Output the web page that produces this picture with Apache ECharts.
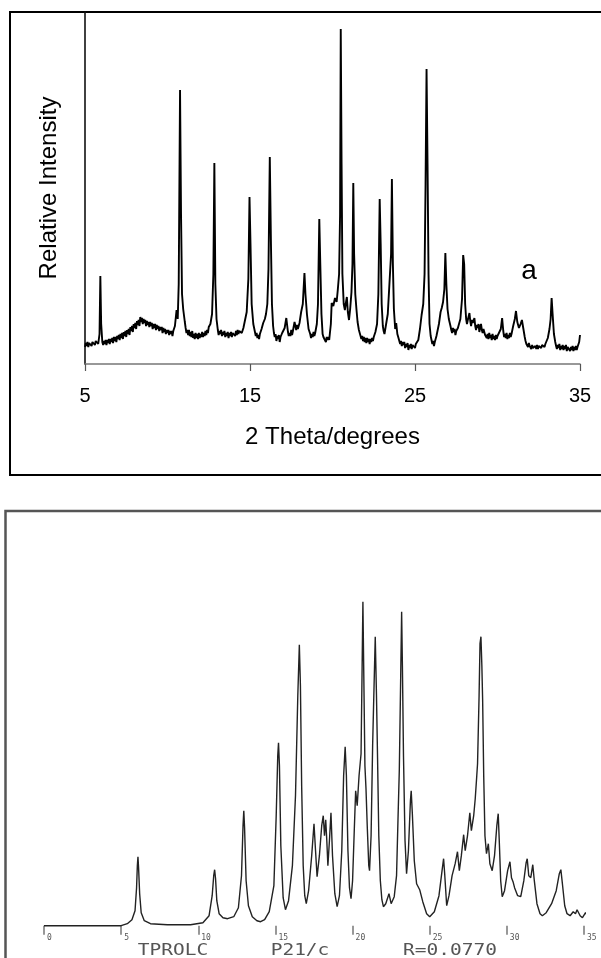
<!DOCTYPE html>
<html>
<head>
<meta charset="utf-8">
<script src="https://cdn.jsdelivr.net/npm/echarts@6/dist/echarts.min.js"></script>
<style>
html,body{margin:0;padding:0;background:#fff;}
#c{width:601px;height:958px;}
</style>
</head>
<body>
<div id="c"></div>
<script>
// ---- Top panel (experimental pattern "a"): [2theta, relative intensity] ----
const topTicks = [5, 15, 25, 35];
const topPattern = [
[5.0,17],[5.05,21],[5.1,18],[5.15,22],[5.2,17],[5.25,21],[5.3,19],[5.35,23],[5.4,18],[5.45,22],[5.5,20],[5.55,24],[5.6,19],[5.65,23],[5.7,21],[5.75,25],[5.8,20],
[5.88,30],[5.93,88],[5.98,40],[6.05,22],
[6.1,19],[6.15,23],[6.2,20],[6.25,24],[6.3,19],[6.35,24],[6.4,21],[6.45,25],[6.5,20],[6.55,25],[6.6,22],[6.65,26],[6.7,21],[6.75,27],[6.8,23],[6.85,27],[6.9,22],[6.95,28],[7.0,25],
[7.05,29],[7.1,24],[7.15,30],[7.2,26],[7.25,31],[7.3,25],[7.35,32],[7.4,28],[7.45,33],[7.5,27],[7.55,34],[7.6,30],[7.65,35],[7.7,29],[7.75,37],[7.8,33],[7.85,38],[7.9,32],[7.95,40],[8.0,36],
[8.05,41],[8.1,35],[8.15,43],[8.2,39],[8.25,44],[8.3,38],[8.35,47],[8.4,42],[8.45,46],[8.5,40],[8.55,45],[8.6,41],[8.65,44],[8.7,38],[8.75,43],[8.8,39],[8.85,42],[8.9,37],[8.95,42],[9.0,38],
[9.05,41],[9.1,35],[9.15,40],[9.2,36],[9.25,40],[9.3,34],[9.35,39],[9.4,35],[9.45,38],[9.5,33],[9.55,37],[9.6,34],[9.65,37],[9.7,31],[9.75,36],[9.8,32],[9.85,35],[9.9,30],[9.95,34],[10.0,31],
[10.05,34],[10.1,29],[10.15,33],[10.2,30],[10.25,33],[10.3,28],[10.35,33],[10.4,35],[10.45,38],[10.5,40],[10.55,54],[10.62,45],[10.68,80],[10.76,274],[10.82,150],[10.88,70],[10.95,55],[11.05,42],
[11.1,36],[11.15,31],[11.2,34],[11.25,29],[11.3,34],[11.35,28],[11.4,32],[11.45,27],[11.5,33],[11.55,26],[11.6,30],[11.65,25],[11.7,31],[11.75,26],[11.8,30],[11.85,25],[11.9,31],[11.95,26],[12.0,30],
[12.05,27],[12.1,32],[12.15,27],[12.2,31],[12.25,28],[12.3,33],[12.35,29],[12.4,34],[12.45,31],[12.5,37],[12.6,40],[12.7,50],[12.78,90],[12.84,201],[12.9,80],[12.97,45],[13.05,34],
[13.1,29],[13.15,33],[13.2,30],[13.25,34],[13.3,28],[13.35,32],[13.4,29],[13.45,33],[13.5,27],[13.55,31],[13.6,28],[13.65,32],[13.7,26],[13.75,31],[13.8,28],[13.85,32],[13.9,27],[13.95,31],[14.0,29],
[14.05,33],[14.1,28],[14.15,33],[14.2,29],[14.25,34],[14.3,30],[14.35,33],[14.4,31],[14.45,35],[14.5,31],[14.6,36],[14.7,44],[14.8,52],[14.9,85],[14.97,167],[15.03,120],[15.1,60],[15.2,40],[15.3,32],
[15.35,28],[15.4,31],[15.45,26],[15.5,29],[15.55,25],[15.6,30],[15.65,31],[15.7,35],[15.75,34],[15.8,41],[15.9,45],[15.97,50],[16.05,60],[16.12,95],[16.2,207],[16.27,120],[16.33,60],[16.4,38],
[16.45,31],[16.5,27],[16.55,30],[16.6,23],[16.65,28],[16.7,25],[16.75,29],[16.8,22],[16.85,27],[16.9,26],[16.95,31],[17.0,29],[17.1,36],[17.2,46],[17.3,32],[17.35,28],[17.4,31],[17.45,28],[17.5,34],[17.55,29],[17.6,33],[17.7,42],[17.8,34],[17.85,39],[17.9,35],[18.0,41],[18.1,52],[18.2,60],[18.3,91],[18.36,70],[18.45,50],[18.55,35],[18.65,30],
[18.7,26],[18.75,30],[18.8,27],[18.85,32],[18.9,28],[18.95,31],[19.05,40],[19.12,60],[19.2,145],[19.26,100],[19.33,50],[19.4,30],[19.45,27],[19.5,25],[19.55,28],[19.6,22],[19.65,27],[19.7,24],[19.75,27],[19.8,24],[19.9,40],[19.95,61],[20.05,58],[20.15,66],[20.25,62],[20.32,74],[20.4,90],[20.46,150],[20.5,335],[20.55,200],[20.6,90],[20.68,60],[20.75,54],[20.82,62],[20.87,67],[20.93,52],[21.0,44],[21.07,55],[21.15,72],[21.21,100],[21.26,181],[21.31,110],[21.38,70],[21.45,55],[21.52,42],[21.6,34],[21.7,28],
[21.75,25],[21.8,28],[21.85,23],[21.9,27],[21.95,22],[22.0,26],[22.05,21],[22.1,26],[22.15,22],[22.2,25],[22.25,20],[22.3,25],[22.35,22],[22.4,26],[22.45,23],[22.5,27],[22.6,32],[22.7,40],[22.78,70],[22.86,165],[22.92,120],[22.98,60],[23.05,38],[23.1,33],[23.15,30],[23.25,40],[23.35,50],[23.45,80],[23.55,110],[23.6,185],[23.66,100],[23.72,55],[23.8,35],[23.86,41],[23.93,30],[24.0,26],
[24.05,23],[24.1,20],[24.15,23],[24.2,18],[24.25,22],[24.3,19],[24.35,22],[24.4,16],[24.45,20],[24.5,17],[24.55,21],[24.6,14],[24.65,19],[24.7,16],[24.75,20],[24.8,15],[24.85,19],[24.9,17],[24.95,21],[25.0,16],[25.05,20],[25.1,19],[25.2,24],[25.3,35],[25.4,49],[25.5,60],[25.58,90],[25.64,180],[25.7,295],[25.76,200],[25.82,90],[25.88,40],[25.95,28],
[26.0,24],[26.05,20],[26.1,23],[26.15,18],[26.2,22],[26.25,24],[26.3,28],[26.35,30],[26.45,40],[26.55,52],[26.62,56],[26.7,62],[26.78,75],[26.84,111],[26.9,80],[26.97,55],[27.05,45],[27.15,38],
[27.2,34],[27.25,31],[27.3,36],[27.35,32],[27.4,35],[27.45,29],[27.5,33],[27.55,31],[27.6,36],[27.65,37],[27.75,45],[27.85,65],[27.92,109],[27.98,100],[28.04,60],[28.1,45],[28.15,40],[28.2,44],[28.3,51],[28.35,43],[28.4,38],[28.45,44],[28.5,41],[28.6,46],[28.65,38],[28.7,34],[28.75,39],[28.8,36],[28.85,40],[28.9,32],[28.95,37],[29.0,40],[29.05,34],[29.1,31],[29.15,35],[29.2,33],
[29.25,29],[29.3,31],[29.35,26],[29.4,30],[29.45,25],[29.5,31],[29.55,26],[29.6,29],[29.65,24],[29.7,30],[29.75,25],[29.8,28],[29.85,24],[29.9,29],[29.95,25],[30.0,28],[30.05,26],[30.1,30],[30.2,35],[30.28,46],[30.35,33],[30.4,27],[30.45,30],[30.5,26],[30.55,31],[30.6,25],[30.65,29],[30.7,26],[30.75,31],[30.8,27],[30.85,30],[30.95,38],[31.05,45],[31.12,53],[31.2,42],[31.3,36],[31.4,40],[31.48,44],[31.56,36],[31.65,27],
[31.7,23],[31.75,20],[31.8,22],[31.85,17],[31.9,21],[31.95,18],[32.0,20],[32.05,15],[32.1,19],[32.15,16],[32.2,18],[32.25,14],[32.3,18],[32.35,15],[32.4,19],[32.45,15],[32.5,18],[32.55,16],[32.6,20],[32.65,16],[32.7,19],[32.75,17],[32.8,21],[32.85,17],[32.9,20],[32.95,21],[33.05,26],[33.15,35],[33.22,45],[33.28,66],[33.34,50],[33.42,30],[33.5,22],
[33.55,18],[33.6,15],[33.65,19],[33.7,16],[33.75,20],[33.8,14],[33.85,18],[33.9,15],[33.95,19],[34.0,14],[34.05,18],[34.1,15],[34.15,19],[34.2,13],[34.25,17],[34.3,15],[34.35,18],[34.4,13],[34.45,17],[34.5,14],[34.55,18],[34.6,13],[34.65,17],[34.7,14],[34.75,18],[34.8,14],[34.85,17],[34.9,16],[34.95,22],[35.0,29]
];

// ---- Bottom panel (calculated pattern TPROLC): [2theta, intensity] ----
const bottomTicks = [0, 5, 10, 15, 20, 25, 30, 35];
const bottomPattern = [
[0,0],[5.0,0],[5.4,2],[5.7,6],[5.9,15],[6.0,38],[6.05,60],[6.09,69],[6.13,58],[6.2,32],[6.3,13],[6.5,5],[6.9,2],[8,1],[9.5,1],[10.3,3],[10.7,10],[10.9,30],[11.0,50],[11.06,56],[11.12,47],[11.2,25],[11.35,12],[11.6,8],[11.9,7],[12.3,9],[12.6,18],[12.8,50],[12.9,100],[12.95,115],[13.0,98],[13.1,45],[13.25,20],[13.5,9],[13.8,5],[14.04,4],[14.3,6],[14.6,14],[14.9,40],[15.05,110],[15.15,170],[15.2,183],[15.26,160],[15.35,80],[15.5,28],[15.65,16],[15.85,25],[16.1,60],[16.3,130],[16.45,230],[16.55,281],[16.62,240],[16.7,140],[16.8,60],[16.9,30],[17.0,22],[17.15,35],[17.35,70],[17.5,102],[17.6,75],[17.7,49],[17.85,70],[18.0,100],[18.1,110],[18.18,90],[18.26,106],[18.33,85],[18.4,60],[18.5,85],[18.6,113],[18.7,70],[18.85,32],[19.0,19],[19.15,30],[19.3,75],[19.42,150],[19.52,179],[19.6,150],[19.7,75],[19.8,38],[19.9,27],[20.0,45],[20.12,100],[20.2,135],[20.3,120],[20.42,150],[20.55,172],[20.62,260],[20.67,324],[20.72,260],[20.8,160],[20.87,137],[20.95,100],[21.05,60],[21.1,55],[21.2,90],[21.3,180],[21.36,219],[21.47,289],[21.55,230],[21.62,167],[21.7,90],[21.8,45],[21.9,26],[22.0,19],[22.15,22],[22.36,32],[22.5,22],[22.7,29],[22.85,50],[22.95,110],[23.03,156],[23.12,250],[23.18,314],[23.23,260],[23.3,170],[23.4,85],[23.5,52],[23.62,75],[23.75,125],[23.8,135],[23.88,110],[24.0,65],[24.15,42],[24.35,36],[24.55,24],[24.8,12],[25.0,9],[25.3,14],[25.6,30],[25.8,55],[25.9,67],[25.97,52],[26.1,20],[26.25,30],[26.45,50],[26.65,62],[26.8,74],[26.92,55],[27.05,70],[27.2,91],[27.3,75],[27.45,90],[27.6,113],[27.7,95],[27.85,110],[27.95,127],[28.05,150],[28.1,162],[28.2,230],[28.26,282],[28.32,289],[28.38,260],[28.43,226],[28.5,150],[28.58,90],[28.68,72],[28.8,82],[28.9,62],[29.05,55],[29.2,70],[29.35,100],[29.44,112],[29.52,80],[29.6,45],[29.7,29],[29.85,35],[30.05,55],[30.2,64],[30.3,48],[30.4,44],[30.5,38],[30.7,30],[30.9,29],[31.1,45],[31.25,63],[31.32,67],[31.42,50],[31.55,48],[31.68,61],[31.78,45],[31.95,22],[32.15,12],[32.3,10],[32.55,13],[32.9,22],[33.2,35],[33.4,52],[33.5,56],[33.6,42],[33.75,20],[33.9,12],[34.1,10],[34.3,14],[34.45,12],[34.55,16],[34.66,18],[34.75,10],[34.9,8],[35.1,13],[35.3,8],[35.5,6],[35.8,10],[36.1,14]
];

const topAxisName = '2 Theta/degrees';
const topYName = 'Relative Intensity';
const topTag = 'a';
const bottomCaptions = ['TPROLC', 'P21/c', 'R=0.0770'];

const chart = echarts.init(document.getElementById('c'), null, {renderer: 'canvas', width: 601, height: 958});
const SANS = '"Liberation Sans", Arial, sans-serif';
const MONO = '"DejaVu Sans Mono", "Liberation Mono", monospace';

chart.setOption({
  animation: false,
  backgroundColor: '#fff',
  grid: [
    {left: 85, top: 12, width: 495, height: 352},
    {left: 44, top: 595.7, width: 540, height: 330}
  ],
  xAxis: [
    {
      gridIndex: 0, type: 'value', min: topTicks[0], max: topTicks[topTicks.length - 1],
      axisLine: {show: true, lineStyle: {color: '#777', width: 1.5}},
      axisTick: {show: true, length: 7, customValues: topTicks, lineStyle: {color: '#555', width: 1.2}},
      axisLabel: {customValues: topTicks, fontSize: 20, fontFamily: SANS, color: '#000', margin: 22},
      splitLine: {show: false},
      name: topAxisName, nameLocation: 'middle', nameGap: 61,
      nameTextStyle: {fontSize: 24, fontFamily: SANS, color: '#000'}
    },
    {
      gridIndex: 1, type: 'value', min: bottomTicks[0], max: bottomTicks[bottomTicks.length - 1],
      offset: 8,
      axisLine: {show: false},
      axisTick: {show: true, length: 9, customValues: bottomTicks, lineStyle: {color: '#777', width: 1.5}},
      axisLabel: {customValues: bottomTicks, fontSize: 8, fontFamily: MONO, color: '#555', margin: 0,
        align: 'left', verticalAlign: 'top', padding: [0, 0, 0, 3]},
      splitLine: {show: false}
    }
  ],
  yAxis: [
    {
      gridIndex: 0, type: 'value', min: 0, max: 352,
      axisLine: {show: true, lineStyle: {color: '#111', width: 1.6}},
      axisTick: {show: false}, axisLabel: {show: false}, splitLine: {show: false},
      name: topYName, nameLocation: 'middle', nameGap: 24,
      nameTextStyle: {fontSize: 24, fontFamily: SANS, color: '#000'}
    },
    {
      gridIndex: 1, type: 'value', min: 0, max: 330, show: false
    }
  ],
  series: [
    {
      type: 'line', xAxisIndex: 0, yAxisIndex: 0, data: topPattern,
      showSymbol: false, symbol: 'none', lineStyle: {color: '#000', width: 1.9}
    },
    {
      type: 'line', xAxisIndex: 1, yAxisIndex: 1, data: bottomPattern, clip: false,
      showSymbol: false, symbol: 'none', lineStyle: {color: '#222', width: 1.4}
    }
  ],
  graphic: [
    {type: 'rect', shape: {x: 10, y: 12, width: 640, height: 463}, style: {fill: 'none', stroke: '#000', lineWidth: 2}, silent: true},
    {type: 'rect', shape: {x: 5.5, y: 511, width: 660, height: 500}, style: {fill: 'none', stroke: '#555', lineWidth: 2.5}, silent: true},
    {type: 'text', x: 529, y: 271, style: {text: topTag, font: '28px ' + SANS, fill: '#000', align: 'center', verticalAlign: 'middle'}},
    {type: 'text', x: 173, y: 944, scaleX: 1.3, style: {text: bottomCaptions[0], font: '15px ' + MONO, fill: '#555', align: 'center', verticalAlign: 'top'}},
    {type: 'text', x: 300, y: 944, scaleX: 1.3, style: {text: bottomCaptions[1], font: '15px ' + MONO, fill: '#555', align: 'center', verticalAlign: 'top'}},
    {type: 'text', x: 450, y: 944, scaleX: 1.3, style: {text: bottomCaptions[2], font: '15px ' + MONO, fill: '#555', align: 'center', verticalAlign: 'top'}}
  ]
});
</script>
</body>
</html>
